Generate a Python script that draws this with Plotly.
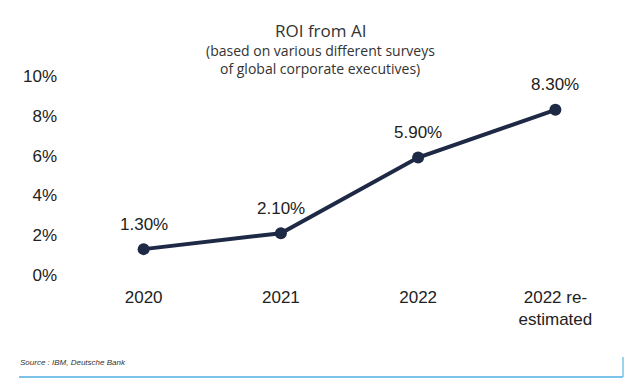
import plotly.graph_objects as go

categories = ["2020", "2021", "2022", "2022 re-<br>estimated"]
roi_values = [1.3, 2.1, 5.9, 8.3]
value_labels = ["1.30%", "2.10%", "5.90%", "8.30%"]
y_tickvals = [0, 2, 4, 6, 8, 10]
y_ticktext = ["0%", "2%", "4%", "6%", "8%", "10%"]

navy = "#1e2a45"
W, H = 639, 379
ML, MR, MT, MB = 75, 15, 76, 104
label_font = dict(family="Liberation Sans, Arial, sans-serif", size=17, color="#222")

fig = go.Figure()
fig.add_trace(go.Scatter(
    x=categories, y=roi_values, mode="lines+markers",
    line=dict(color=navy, width=4),
    marker=dict(color=navy, size=12),
    cliponaxis=False, showlegend=False, hoverinfo="skip",
))

# category axis: annotations positioned by category index
for i, (val, lab) in enumerate(zip(roi_values, value_labels)):
    fig.add_annotation(x=i, y=val, text=lab, showarrow=False, yshift=25,
                       xanchor="center", yanchor="middle", font=label_font)

fig.update_layout(
    width=W, height=H,
    margin=dict(l=ML, r=MR, t=MT, b=MB),
    paper_bgcolor="white", plot_bgcolor="white",
    xaxis=dict(type="category", range=[-0.5, 3.5], showgrid=False, zeroline=False,
               showline=False, ticks="", ticklabelstandoff=10, fixedrange=True,
               tickfont=label_font),
    yaxis=dict(range=[0, 10], tickvals=y_tickvals, ticktext=y_ticktext,
               showgrid=False, zeroline=False, showline=False, ticks="",
               ticklabelstandoff=17, fixedrange=True,
               tickfont=label_font),
)


def px_to_paper(px, py):
    return (px - ML) / (W - ML - MR), (H - MB - py) / (H - MT - MB)


for txt, py, sz in [("ROI from AI", 30, 17),
                    ("(based on various different surveys", 50, 14),
                    ("of global corporate executives)", 69, 14)]:
    xp, yp = px_to_paper(320, py)
    fig.add_annotation(text=txt, x=xp, y=yp, xref="paper", yref="paper",
                       showarrow=False, xanchor="center", yanchor="middle",
                       font=dict(family="Open Sans, sans-serif", size=sz, color="#333"))

xp, yp = px_to_paper(18, 362)
fig.add_annotation(text="<i>Source : IBM, Deutsche Bank</i>", x=xp, y=yp, xref="paper", yref="paper",
                   showarrow=False, xanchor="left", yanchor="middle",
                   font=dict(family="Liberation Sans, Arial, sans-serif", size=8, color="#333"))

x0, _ = px_to_paper(19, 0)
x1, _ = px_to_paper(623, 0)
_, yb = px_to_paper(0, 377)
_, yt = px_to_paper(0, 357)
fig.add_shape(type="line", xref="paper", yref="paper", x0=x0, x1=x1, y0=yb, y1=yb,
              line=dict(color="#7cc3ea", width=2))
fig.add_shape(type="line", xref="paper", yref="paper", x0=x1, x1=x1, y0=yb, y1=yt,
              line=dict(color="#7cc3ea", width=1.5))

fig.write_html("out.html", config={"displayModeBar": False},
               post_script="document.body.style.margin='0';document.body.style.overflow='hidden';")
